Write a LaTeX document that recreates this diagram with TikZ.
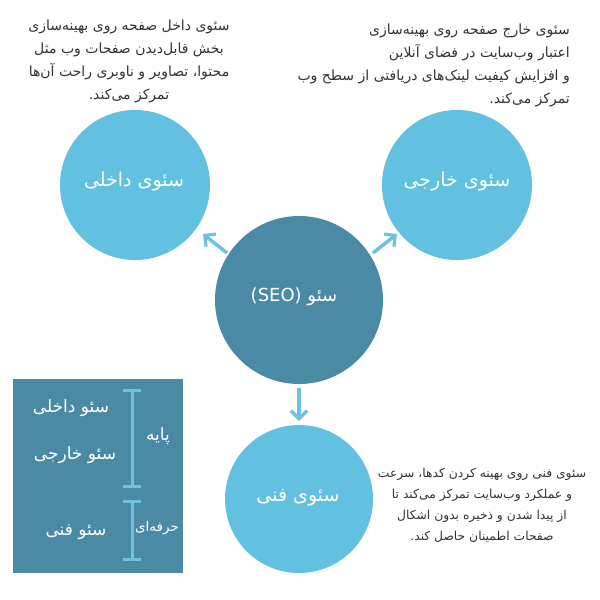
\documentclass[tikz,border=0pt]{standalone}
\usepackage{fontspec}
\TeXXeTstate=1
\newfontfamily\arabicfont[Script=Arabic]{DejaVu Sans}
\usetikzlibrary{arrows.meta}
\definecolor{lightc}{HTML}{62C0E0}
\definecolor{darkc}{HTML}{4A8AA5}
\definecolor{arrowc}{HTML}{6EC1DF}
\definecolor{txtc}{HTML}{333333}
\tikzset{
  lightcircle/.style={circle,fill=lightc,draw=none,minimum size=150pt,inner sep=0pt},
  darkcircle/.style={circle,fill=darkc,draw=none,minimum size=168pt,inner sep=0pt},
  circlabel/.style={text=white,font=\arabicfont\fontsize{19}{22}\selectfont},
  desc/.style={text=txtc,font=\arabicfont\fontsize{14}{23}\selectfont,inner sep=0pt},
  descsmall/.style={text=txtc,font=\arabicfont\fontsize{12.3}{21}\selectfont,inner sep=0pt},
  conn/.style={draw=arrowc,line width=3.5pt,-{Straight Barb[length=8pt,width=16pt,line width=3.2pt]}},
  boxtext/.style={text=white,font=\arabicfont\fontsize{17}{20}\selectfont},
  bracket/.style={draw=arrowc,line width=3pt},
}
\begin{document}
\begin{tikzpicture}[x=1pt,y=-1pt]
\useasboundingbox (0,0) rectangle (600,600);
\fill[white] (0,0) rectangle (600,600);
% circles
\node[darkcircle] (seo) at (299,300) {};
\node[circlabel,font=\arabicfont\fontsize{18}{22}\selectfont] (seolbl) at (294,297) {\beginR سئو \beginL(SEO)\endL\endR};
\node[lightcircle] (dakheli) at (135,185) {};
\node[circlabel] at (134,182) {\beginR سئوی داخلی\endR};
\node[lightcircle] (khareji) at (457,185) {};
\node[circlabel] at (457,182) {\beginR سئوی خارجی\endR};
\node[lightcircle,minimum size=148pt] (fanni) at (299,499) {};
\node[circlabel] at (298,498) {\beginR سئوی فنی\endR};
% arrows
\coordinate (a1s) at (227,253); \coordinate (a1e) at (203,234);
\coordinate (a2s) at (373,253); \coordinate (a2e) at (397,234);
\coordinate (a3s) at (299,388); \coordinate (a3e) at (299,421);
\draw[conn] (a1s) -- (a1e);
\draw[conn] (a2s) -- (a2e);
\draw[conn] (a3s) -- (a3e);
% descriptions
\node[desc,align=center] (d1) at (129,61) {\beginR سئوی داخل صفحه روی بهینه‌سازی\endR\\
\beginR بخش قابل‌دیدن صفحات وب مثل\endR\\
\beginR محتوا، تصاویر و ناوبری راحت آن‌ها\endR\\
\beginR تمرکز می‌کند.\endR};
\node[desc,align=right,anchor=east] (d2) at (570,65) {\beginR سئوی خارج صفحه روی بهینه‌سازی\endR\\
\beginR اعتبار وب‌سایت در فضای آنلاین\endR\\
\beginR و افزایش کیفیت لینک‌های دریافتی از سطح وب\endR\\
\beginR تمرکز می‌کند.\endR};
\node[descsmall,align=center] (d3) at (482,505) {\beginR سئوی فنی روی بهینه کردن کدها، سرعت\endR\\
\beginR و عملکرد وب‌سایت تمرکز می‌کند تا\endR\\
\beginR از پیدا شدن و ذخیره بدون اشکال\endR\\
\beginR صفحات اطمینان حاصل کند.\endR};
% box
\node[fill=darkc,draw=none,minimum width=170pt,minimum height=194pt,inner sep=0pt] (box) at (98,476) {};
\node[boxtext] (b1) at (71,408) {\beginR سئو داخلی\endR};
\node[boxtext] (b2) at (75,455) {\beginR سئو خارجی\endR};
\node[boxtext] (b3) at (76,532) {\beginR سئو فنی\endR};
\node[boxtext] (b4) at (158,436) {\beginR پایه\endR};
\node[boxtext,font=\arabicfont\fontsize{13.5}{16}\selectfont] (b5) at (157,528) {\beginR حرفه‌ای\endR};
\coordinate (br1t) at (132,390); \coordinate (br1b) at (132,486);
\coordinate (br2t) at (132,501); \coordinate (br2b) at (132,559);
\draw[bracket] (br1t) -- (br1b);
\draw[bracket] (123,390) -- (141,390);
\draw[bracket] (123,486) -- (141,486);
\draw[bracket] (br2t) -- (br2b);
\draw[bracket] (123,501) -- (141,501);
\draw[bracket] (123,559) -- (141,559);
\end{tikzpicture}
\end{document}
